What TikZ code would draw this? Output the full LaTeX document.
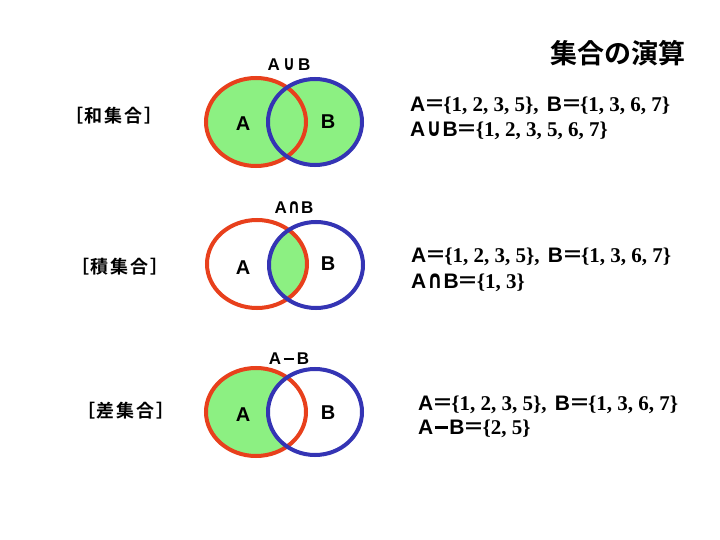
\documentclass[tikz,border=0pt]{standalone}
\usepackage{fontspec}
\usepackage{graphicx}
\setmainfont{Liberation Serif}
\newfontfamily\jpf{Noto Sans CJK JP}[BoldFont={Noto Sans CJK JP Bold}]
\newfontfamily\lsans{Liberation Sans}
\newfontfamily\djv{DejaVu Sans}
\definecolor{setred}{RGB}{232,64,28}
\definecolor{setblue}{RGB}{52,52,180}
\definecolor{setgreen}{RGB}{140,240,130}
\tikzset{
  redring/.style={draw=setred,line width=4pt},
  bluering/.style={draw=setblue,line width=4pt},
  setlbl/.style={font=\lsans\bfseries\fontsize{20}{22}\selectfont,inner sep=0pt},
  optitle/.style={font=\lsans\bfseries\fontsize{17}{19}\selectfont,inner sep=0pt},
  kind/.style={font=\jpf\bfseries\fontsize{18}{20}\selectfont,inner sep=0pt},
  eqline/.style={anchor=west,inner sep=0pt,font=\fontsize{21}{23}\selectfont\bfseries},
  maintitle/.style={font=\jpf\bfseries\fontsize{27}{29}\selectfont,inner sep=0pt}
}
\newcommand{\Lt}[1]{{\lsans\bfseries #1}}
\newcommand{\Eq}{{\jpf\bfseries\kern-1pt ＝\kern-2pt}}
\newcommand{\Cup}{{\djv\bfseries\kern1pt\scalebox{0.9}[1.2]{∪}\kern1pt}}
\newcommand{\Cap}{{\djv\bfseries\kern1pt\scalebox{0.9}[1.2]{∩}\kern1pt}}
\newcommand{\Mn}{\kern1.5pt\rule[0.28em]{0.62em}{0.13em}\kern1.5pt}
\newcommand{\gp}{\kern2pt}
\begin{document}
\begin{tikzpicture}[x=1pt,y=-1pt]
\useasboundingbox (0,0) rectangle (720,540);
\fill[white] (0,0) rectangle (720,540);
% title
\node[maintitle] (title) at (618,53) {集合の演算};
% ---------- union ----------
\fill[setgreen] (256,122) ellipse [x radius=50,y radius=44];
\fill[setgreen] (315,122) ellipse [x radius=47,y radius=43];
\draw[redring] (256,122) ellipse [x radius=50,y radius=44];
\draw[bluering] (315,122) ellipse [x radius=47,y radius=43];
\node[optitle] (u) at (289,65) {A\kern2pt\Cup\kern2pt B};
\node[setlbl] (ua) at (243,124) {A};
\node[setlbl] (ub) at (328,122) {B};
\node[kind] (uk) at (114,116) {［\gp 和\gp 集\gp 合\gp ］};
\node[eqline] (ue1) at (410,106) {\Lt{A}\Eq\{1, 2, 3, 5\},\ \kern3pt\Lt{B}\Eq\{1, 3, 6, 7\}};
\node[eqline] (ue2) at (410,131) {\Lt{A}\Cup\Lt{B}\Eq\{1, 2, 3, 5, 6, 7\}};
% ---------- intersection ----------
\begin{scope}
\clip (257,264) ellipse [x radius=50,y radius=44];
\fill[setgreen] (316,265) ellipse [x radius=47,y radius=43];
\end{scope}
\draw[redring] (257,264) ellipse [x radius=50,y radius=44];
\draw[bluering] (316,265) ellipse [x radius=47,y radius=43];
\node[optitle] (i) at (294,208) {A\Cap B};
\node[setlbl] (ia) at (243,268) {A};
\node[setlbl] (ib) at (328,264) {B};
\node[kind] (ik) at (120,267) {［\gp 積\gp 集\gp 合\gp ］};
\node[eqline] (ie1) at (411,257) {\Lt{A}\Eq\{1, 2, 3, 5\},\ \kern3pt\Lt{B}\Eq\{1, 3, 6, 7\}};
\node[eqline] (ie2) at (411,283) {\Lt{A}\Cap\Lt{B}\Eq\{1, 3\}};
% ---------- difference ----------
\fill[setgreen] (256,412) ellipse [x radius=50,y radius=44];
\fill[white] (315,412) ellipse [x radius=47,y radius=43];
\draw[redring] (256,412) ellipse [x radius=50,y radius=44];
\draw[bluering] (315,412) ellipse [x radius=47,y radius=43];
\node[optitle] (d) at (289,359) {A\kern1pt\Mn\kern1pt B};
\node[setlbl] (da) at (243,415) {A};
\node[setlbl] (db) at (328,413) {B};
\node[kind] (dk) at (126,411) {［\gp 差\gp 集\gp 合\gp ］};
\node[eqline] (de1) at (418,405) {\Lt{A}\Eq\{1, 2, 3, 5\},\ \kern3pt\Lt{B}\Eq\{1, 3, 6, 7\}};
\node[eqline] (de2) at (418,429) {\Lt{A}\Mn\Lt{B}\Eq\{2, 5\}};
\end{tikzpicture}
\end{document}
